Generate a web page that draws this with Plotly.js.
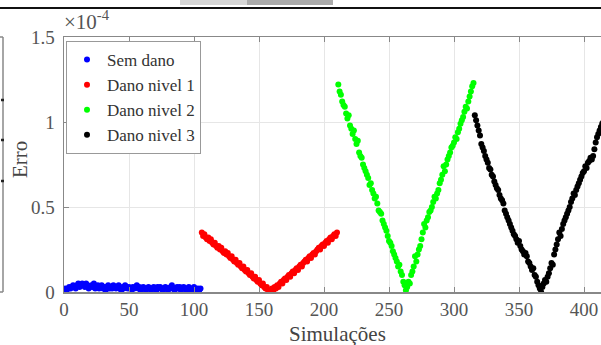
<!DOCTYPE html>
<html>
<head>
<meta charset="utf-8">
<script src="https://cdn.plot.ly/plotly-3.0.1.min.js"></script>
<style>
html,body{margin:0;padding:0;overflow:hidden;background:#fff;width:601px;height:345px;}
#chart{width:620px;height:345px;}
</style>
</head>
<body>
<div id="chart"></div>
<script>
// ---- data (error values in units of 1e-4) ----
const seriesNames = ["Sem dano", "Dano nivel 1", "Dano nivel 2", "Dano nivel 3"];
const seriesStart = [1, 106, 211, 316];   // first simulation index of each series

const semDano = [
  0.02,0.01,0.02,0.03,0.02,0.03,0.04,0.03,0.02,0.04,
  0.05,0.03,0.04,0.05,0.04,0.03,0.05,0.04,0.02,0.03,
  0.04,0.03,0.05,0.02,0.03,0.04,0.02,0.03,0.04,0.02,
  0.03,0.01,0.03,0.04,0.02,0.03,0.02,0.04,0.03,0.02,
  0.03,0.04,0.02,0.01,0.03,0.02,0.04,0.03,0.02,0.03,
  0.02,0.01,0.03,0.02,0.03,0.04,0.02,0.03,0.01,0.02,
  0.03,0.02,0.01,0.02,0.03,0.02,0.01,0.02,0.03,0.02,
  0.01,0.03,0.02,0.03,0.02,0.01,0.02,0.03,0.02,0.01,
  0.02,0.03,0.04,0.02,0.01,0.02,0.03,0.02,0.03,0.01,
  0.02,0.03,0.02,0.01,0.02,0.03,0.02,0.01,0.02,0.03,
  0.02,0.01,0.02,0.01,0.02
];

const danoNivel1 = [
  0.35,0.33,0.34,0.32,0.31,0.32,0.30,0.31,0.29,0.28,
  0.29,0.27,0.26,0.27,0.25,0.26,0.24,0.23,0.24,0.22,
  0.23,0.21,0.20,0.21,0.19,0.18,0.19,0.17,0.16,0.17,
  0.15,0.14,0.15,0.13,0.12,0.13,0.11,0.10,0.11,0.09,
  0.08,0.09,0.07,0.06,0.07,0.05,0.04,0.05,0.03,0.02,
  0.03,0.01,
  0.00,
  0.01,0.02,0.01,0.03,0.02,0.04,0.03,0.05,0.06,0.05,
  0.07,0.08,0.07,0.09,0.10,0.09,0.11,0.12,0.11,0.13,
  0.14,0.13,0.15,0.16,0.15,0.17,0.18,0.19,0.18,0.20,
  0.21,0.20,0.22,0.23,0.22,0.24,0.25,0.26,0.25,0.27,
  0.28,0.27,0.29,0.30,0.29,0.31,0.32,0.31,0.33,0.34,
  0.33,0.35
];

const danoNivel2 = [
  1.22,1.18,1.16,1.12,1.10,1.09,1.05,1.02,1.04,0.98,
  0.96,0.93,0.95,0.90,0.87,0.89,0.82,0.80,0.79,0.75,
  0.73,0.71,0.69,0.67,0.63,0.64,0.60,0.58,0.55,0.56,
  0.52,0.48,0.47,0.46,0.42,0.40,0.38,0.36,0.33,0.30,
  0.29,0.27,0.24,0.22,0.20,0.18,0.15,0.16,0.12,0.10,
  0.06,0.04,
  0.01,
  0.03,0.06,0.05,0.10,0.12,0.15,0.21,0.18,0.22,0.25,
  0.27,0.31,0.35,0.40,0.38,0.42,0.44,0.47,0.48,0.50,
  0.53,0.56,0.55,0.58,0.60,0.64,0.66,0.69,0.74,0.71,
  0.75,0.78,0.80,0.82,0.85,0.86,0.88,0.91,0.90,0.94,
  0.96,0.99,1.01,1.03,1.06,1.09,1.08,1.12,1.15,1.18,
  1.21,1.23
];

const danoNivel3 = [
  1.04,1.01,0.98,0.95,0.92,0.87,0.85,0.83,0.80,0.78,
  0.76,0.73,0.72,0.69,0.68,0.65,0.63,0.61,0.60,0.57,
  0.55,0.54,0.52,0.48,0.46,0.44,0.42,0.40,0.38,0.36,
  0.34,0.33,0.31,0.29,0.30,0.27,0.25,0.24,0.22,0.23,
  0.21,0.18,0.17,0.15,0.13,0.14,0.10,0.09,0.06,0.04,0.02,
  0.00,
  0.03,0.05,0.07,0.06,0.09,0.11,0.14,0.17,0.16,0.22,
  0.25,0.28,0.31,0.35,0.33,0.37,0.40,0.42,0.44,0.46,
  0.48,0.50,0.53,0.55,0.58,0.57,0.60,0.62,0.64,0.66,
  0.68,0.70,0.71,0.74,0.73,0.76,0.77,0.79,0.78,0.80,
  0.84,0.88,0.91,0.93,0.95,0.97,0.99,1.00,1.02,1.03,
  1.04,1.05,1.04
];

const xTicks = [0, 50, 100, 150, 200, 250, 300, 350, 400];
const yTicks = [0, 0.5, 1, 1.5];
const yTickText = ["0", "0.5", "1", "1.5"];

// ---- styling / layout ----
const FONT = "Liberation Serif";
const colors = ["#0000ff", "#ff0000", "#00ff00", "#000000"];
const values = [semDano, danoNivel1, danoNivel2, danoNivel3];

const W = 620, H = 345;
const L = 64, R = 10, T = 37, B = 53;
const PW = W - L - R, PH = H - T - B;
const px = p => (p - L) / PW;          // page x pixel -> paper x
const py = p => (H - B - p) / PH;      // page y pixel -> paper y

const traces = values.map((v, i) => ({
  type: "scatter",
  mode: "markers",
  name: seriesNames[i],
  y: v,
  x0: seriesStart[i],
  dx: 1,
  marker: {color: colors[i], size: 6},
}));

const layout = {
  width: W, height: H,
  margin: {l: L, r: R, t: T, b: B, pad: 0},
  paper_bgcolor: "#fff",
  plot_bgcolor: "#fff",
  font: {family: FONT, size: 18, color: "#555"},
  showlegend: true,
  legend: {
    x: px(66), y: py(41), xanchor: "left", yanchor: "top",
    bgcolor: "#fff", bordercolor: "#999", borderwidth: 1,
    font: {family: FONT, size: 17, color: "#333"},
    itemwidth: 30, tracegroupgap: 0,
  },
  xaxis: {
    range: [0, 420],
    tickmode: "array", tickvals: xTicks,
    ticks: "inside", ticklen: 5, tickcolor: "#888", tickwidth: 1,
    showline: true, linecolor: "#888", linewidth: 1.5, mirror: "ticks",
    showgrid: true, gridcolor: "#e6e6e6", gridwidth: 1,
    zeroline: false,
    tickfont: {family: FONT, size: 19, color: "#555"},
    fixedrange: true,
  },
  yaxis: {
    range: [0, 1.5],
    tickmode: "array", tickvals: yTicks, ticktext: yTickText,
    ticks: "inside", ticklen: 5, tickcolor: "#888", tickwidth: 1,
    showline: true, linecolor: "#888", linewidth: 1.5, mirror: "ticks",
    showgrid: true, gridcolor: "#e6e6e6", gridwidth: 1,
    zeroline: false,
    tickfont: {family: FONT, size: 19, color: "#555"},
    ticklabelstandoff: 4,
    fixedrange: true,
  },
  annotations: [
    {text: "×10<sup>-4</sup>", xref: "paper", yref: "paper", x: px(62), y: py(36),
     xanchor: "left", yanchor: "bottom", showarrow: false,
     font: {family: FONT, size: 21, color: "#555"}},
    {text: "Erro", xref: "paper", yref: "paper", x: px(20), y: py(160),
     xanchor: "center", yanchor: "middle", textangle: -90, showarrow: false,
     font: {family: FONT, size: 21, color: "#444"}},
    {text: "Simulações", xref: "paper", yref: "paper", x: px(337), y: py(320),
     xanchor: "center", yanchor: "top", showarrow: false,
     font: {family: FONT, size: 21, color: "#444"}},
  ],
  shapes: [
    // remains of the surrounding figure (cropped)
    {type: "line", xref: "paper", yref: "paper", x0: px(0), x1: px(620), y0: py(8), y1: py(8),
     line: {color: "#111", width: 2}},
    {type: "rect", xref: "paper", yref: "paper", x0: px(180), x1: px(247), y0: py(0), y1: py(5),
     fillcolor: "#d6d6d6", line: {width: 0}},
    {type: "rect", xref: "paper", yref: "paper", x0: px(247), x1: px(333), y0: py(0), y1: py(5),
     fillcolor: "#ababab", line: {width: 0}},
    {type: "line", xref: "paper", yref: "paper", x0: px(3), x1: px(3), y0: py(37), y1: py(292),
     line: {color: "#888", width: 1.5}},
    {type: "line", xref: "paper", yref: "paper", x0: px(0), x1: px(3), y0: py(37), y1: py(37),
     line: {color: "#888", width: 1.5}},
    {type: "line", xref: "paper", yref: "paper", x0: px(0), x1: px(3), y0: py(292), y1: py(292),
     line: {color: "#888", width: 1.5}},
    {type: "line", xref: "paper", yref: "paper", x0: px(1), x1: px(4), y0: py(100), y1: py(100),
     line: {color: "#222", width: 2.5}},
    {type: "line", xref: "paper", yref: "paper", x0: px(1), x1: px(4), y0: py(140), y1: py(140),
     line: {color: "#222", width: 2.5}},
    {type: "line", xref: "paper", yref: "paper", x0: px(1), x1: px(4), y0: py(181), y1: py(181),
     line: {color: "#222", width: 2.5}},
  ],
};

Plotly.newPlot("chart", traces, layout, {staticPlot: true, displayModeBar: false});
</script>
</body>
</html>
